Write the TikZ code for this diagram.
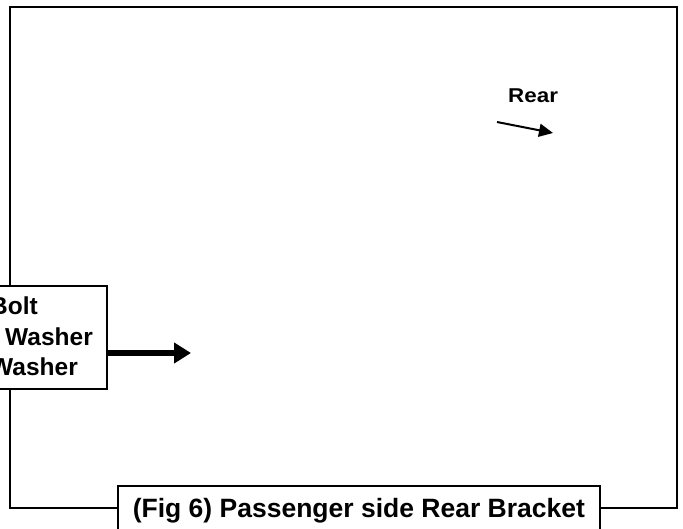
\documentclass[tikz,border=0pt]{standalone}
\usepackage{fontspec}
\setmainfont{Liberation Sans}
\usetikzlibrary{positioning, arrows.meta}

\begin{document}
\begin{tikzpicture}[
    x=1pt, y=-1pt, every node/.style={font=\bfseries},
    frame/.style={draw, line width=2pt},
    box/.style={draw, line width=1.8pt, fill=white, inner sep=0pt},
    word/.style={inner sep=0pt, anchor=base west, font=\fontsize{24.5}{30}\selectfont\bfseries},
    bigarrow/.style={-{Triangle[length=17pt, width=20pt]}, line width=6pt},
    arrow/.style={-{Triangle[length=14pt, width=13pt]}, line width=2pt}
  ]
\path[use as bounding box, clip] (0,0) rectangle (683,529);
\fill[white] (0,0) rectangle (683,529);

% outer frame
\draw[frame] (10,7) rectangle (677,508);

\node[box, anchor=north west, minimum width=482pt, minimum height=50pt,
      font=\fontsize{26.5}{30}\selectfont\bfseries] (title) at (117,485) {(Fig 6) Passenger side Rear Bracket};

% parts box, cut off at the left edge
\node[box, anchor=north east,
      minimum width=170pt, minimum height=103pt]    (parts) at (108,285) {};
\node[word] (bolt)  at (-10,315) {Bolt};
\node[word] (lockw) at (5,345)   {Washer};
\node[word] (flatw) at (-10,375) {Washer};

\coordinate (bigtip) at (191,353);
\draw[bigarrow] (parts.east |- bigtip) -- (bigtip);

% direction mark
\node[anchor=base west, inner sep=0pt,
      font=\fontsize{20}{24}\selectfont\bfseries]   (rear) at (508,103) {\scalebox{1.12}[1]{Rear}};
\coordinate (reartail) at (497,122);
\coordinate (reartip)  at (553,133);
\draw[arrow] (reartail) -- (reartip);
\end{tikzpicture}
\end{document}
